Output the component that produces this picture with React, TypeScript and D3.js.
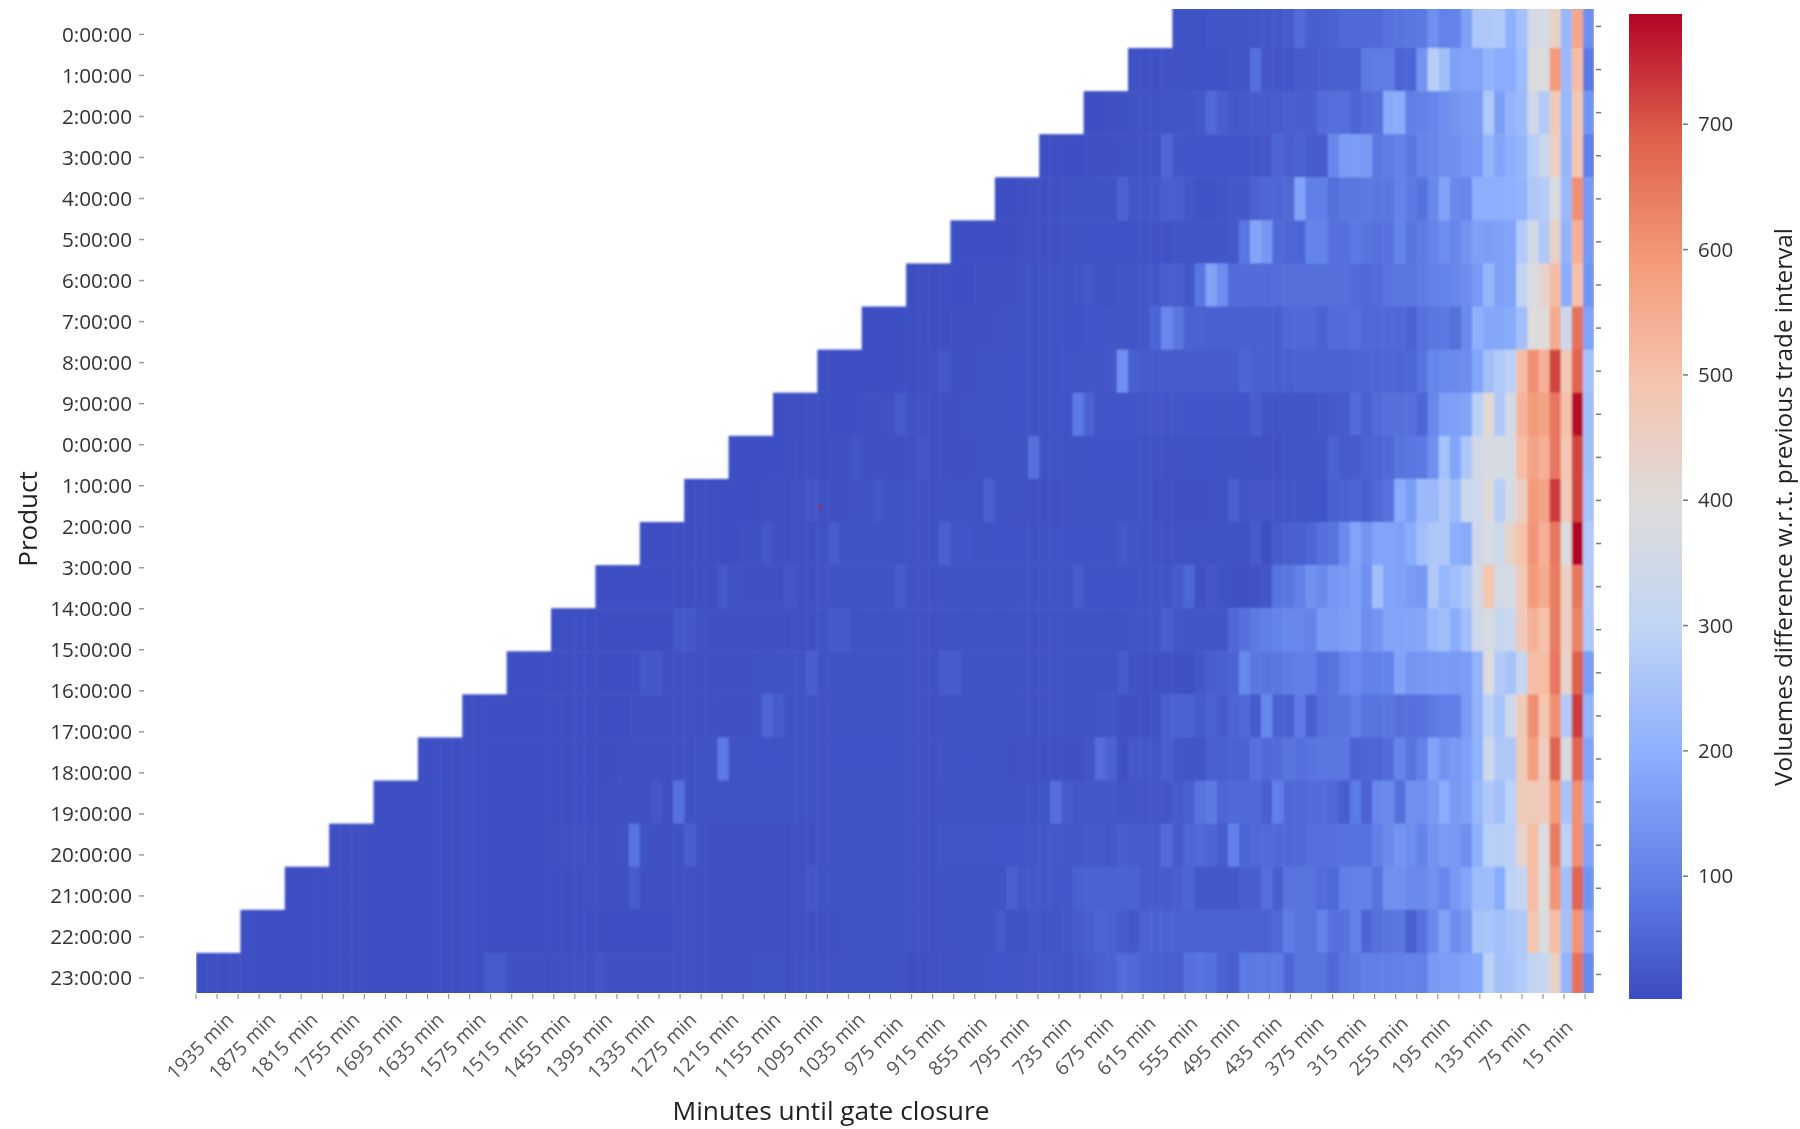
import * as d3 from 'd3';

const width = 1800;
const height = 1129;

// tick labels as printed on the chart (the first ten and 10:00-13:00 are cut off on the left in the source)
const productLabels = ['0:00:00','1:00:00','2:00:00','3:00:00','4:00:00','5:00:00','6:00:00','7:00:00','8:00:00','9:00:00','0:00:00','1:00:00','2:00:00','3:00:00','14:00:00','15:00:00','16:00:00','17:00:00','18:00:00','19:00:00','20:00:00','21:00:00','22:00:00','23:00:00'];
const minuteLabels = [1935,1875,1815,1755,1695,1635,1575,1515,1455,1395,1335,1275,1215,1155,1095,1035,975,915,855,795,735,675,615,555,495,435,375,315,255,195,135,75,15];
const minuteTicks = [1935,1905,1875,1845,1815,1785,1755,1725,1695,1665,1635,1605,1575,1545,1515,1485,1455,1425,1395,1365,1335,1305,1275,1245,1215,1185,1155,1125,1095,1065,1035,1005,975,945,915,885,855,825,795,765,735,705,675,645,615,585,555,525,495,465,435,405,375,345,315,285,255,225,195,165,135,105,75,45,15,-15,-45];
const colorbarTicks = [100,200,300,400,500,600,700];
const volumeMin = 2;
const volumeMax = 788;

// the values of one product row, right aligned: last entry is the last trade interval
const row00 = [15,15,15,18,18,20,22,22,25,25,30,60,35,40,45,55,55,55,55,70,75,80,85,130,100,105,165,260,265,270,200,245,360,370,440,220,560,130];
const row01 = [12,12,12,14,14,14,15,15,15,16,18,65,
  20,20,22,30,32,35,38,40,40,85,88,90,50,50,140,280,240,165,170,170,210,190,190,230,385,385,590,225,510,85];
const row02 = [10,10,12,12,14,15,15,16,18,20,25,55,
  35,25,28,30,30,32,35,35,35,60,65,68,50,60,65,185,190,95,100,108,128,140,150,155,265,160,210,225,350,270,470,220,480,140];
const row03 = [10,10,10,10,12,12,12,14,14,14,15,50,20,18,18,18,18,18,18,22,25,
  50,35,45,32,30,110,155,160,150,80,90,100,80,105,110,125,130,145,150,215,175,195,215,280,330,450,215,490,95];
const row04 = [10,10,10,12,12,12,14,14,14,15,15,45,20,22,25,35,35,25,15,15,20,25,25,
  45,50,50,55,170,95,95,65,80,80,85,80,80,100,85,70,110,170,115,110,195,195,195,200,210,265,275,385,225,610,150];
const row05 = [8,8,10,10,10,10,12,12,12,12,14,14,15,15,15,15,15,15,15,15,18,18,20,20,22,25,
  80,175,145,55,50,50,105,105,70,70,85,75,70,70,105,75,85,105,125,110,140,165,160,165,170,270,355,265,440,210,540,150];
const row06 = [8,8,8,10,10,10,12,12,12,12,14,14,15,15,14,18,25,15,15,20,22,25,25,35,35,25,
  80,170,125,60,60,60,60,62,65,65,65,65,65,65,60,55,60,75,80,78,90,100,105,110,125,150,215,165,170,310,380,430,510,190,500,140];
const row07 = [8,8,8,8,10,10,10,10,12,12,12,12,14,14,14,14,15,15,15,15,18,18,20,20,22,25,
  50,110,80,45,42,40,40,40,40,40,40,40,55,55,55,45,60,60,65,55,55,55,55,45,70,80,85,65,115,200,180,180,185,240,395,400,550,340,660,170];
const row08 = [8,8,8,8,10,10,10,10,10,12,12,25,12,12,14,14,14,15,15,15,15,15,18,18,20,20,25,
  130,40,30,30,30,30,30,30,30,30,30,50,40,40,40,40,45,45,45,45,45,48,48,50,50,50,50,75,110,115,120,125,175,240,270,285,510,610,540,720,470,680,250];
const row09 = [8,8,8,10,10,10,10,10,12,12,14,30,14,14,12,12,12,14,14,14,15,15,15,15,15,15,15,85,45,18,18,18,18,20,22,22,
  22,22,22,22,22,22,22,35,16,16,16,18,20,25,28,30,60,40,60,65,65,70,50,110,160,165,170,285,410,265,360,530,590,570,650,500,785,240];
const row10 = [8,8,8,8,10,10,10,10,10,12,12,20,12,12,12,12,12,25,12,12,12,12,14,14,14,14,14,65,14,14,14,14,15,15,15,15,15,15,15,14,14,14,15,15,14,14,14,12,12,15,18,18,20,22,
  45,30,30,45,50,55,75,80,85,130,245,175,260,355,370,370,370,510,570,540,650,480,720,240];
const row11 = [8,8,8,10,10,10,10,12,12,12,12,25,12,12,12,14,14,25,14,14,14,14,14,14,14,14,14,40,14,14,12,12,12,12,14,14,14,14,14,14,14,14,12,12,12,12,12,14,14,
  40,22,20,20,20,20,20,18,18,40,45,50,40,55,70,190,160,225,225,265,230,330,340,400,280,370,450,590,570,730,470,720,250];
const row12 = [8,8,8,8,10,10,10,10,10,12,12,25,12,12,12,12,14,30,14,14,14,14,14,14,14,14,14,40,18,18,15,15,15,15,15,15,15,15,15,15,15,15,15,25,18,15,15,15,15,15,14,14,14,14,14,
  30,8,30,35,40,50,70,75,120,170,140,170,170,165,190,240,260,265,195,185,350,370,340,440,500,600,540,650,390,790,270];
const row13 = [8,8,8,8,10,10,10,10,10,10,10,25,14,12,12,12,12,22,12,12,14,14,14,14,14,14,14,30,14,14,14,14,14,14,14,14,14,14,14,14,14,14,14,30,15,15,15,15,15,15,18,18,30,50,12,25,14,12,12,12,
  20,75,80,100,135,120,145,150,165,130,240,170,165,155,145,265,215,240,265,360,490,360,370,470,590,550,640,450,650,270];
const row14 = [8,8,8,8,8,10,10,10,10,10,10,25,25,12,12,12,12,12,12,12,12,12,12,12,14,28,28,14,14,14,14,14,14,14,14,14,14,14,14,14,14,14,14,14,14,14,14,14,14,14,14,14,18,18,18,35,20,20,20,20,20,55,
  70,85,95,105,110,110,105,150,150,160,165,125,140,170,170,175,180,220,240,190,240,345,370,320,330,470,540,500,640,450,630,260];
const row15 = [8,8,8,8,8,8,10,10,10,10,10,10,25,25,12,12,12,12,12,12,12,12,14,14,14,14,14,35,14,14,14,14,14,14,14,14,14,14,14,30,30,14,14,14,14,14,14,14,14,14,14,14,14,14,14,30,15,12,12,12,12,12,25,35,40,45,
  110,80,75,80,90,95,95,70,75,105,115,100,100,105,170,140,145,150,155,150,155,210,395,270,250,320,510,510,650,430,690,160];
const row16 = [8,8,8,8,8,8,8,10,10,10,10,10,10,10,10,12,12,12,12,12,12,12,12,12,12,12,14,50,30,14,14,14,14,14,14,14,14,14,14,14,14,14,14,14,14,14,14,14,14,14,14,14,14,14,14,14,14,18,20,12,12,12,15,40,45,45,30,45,30,50,55,
  30,110,40,40,90,40,65,75,75,95,75,75,80,65,70,70,85,95,95,150,210,290,250,340,470,610,490,610,270,730,210];
const row17 = [8,8,8,8,8,8,8,8,10,10,10,10,10,10,10,10,10,10,12,12,12,12,12,12,14,14,14,85,14,14,15,15,15,15,15,15,15,15,15,15,15,15,15,15,15,15,15,15,15,15,15,15,15,12,12,12,12,12,12,12,20,60,45,12,25,25,20,35,20,20,20,40,40,45,45,
  70,55,60,75,70,75,80,80,80,45,50,50,60,105,75,100,170,140,150,165,205,340,260,265,470,580,460,680,370,680,170];
const row18 = [8,8,8,8,8,8,8,8,8,8,10,10,10,10,10,10,10,10,10,10,10,12,12,12,12,25,12,70,15,15,14,14,14,14,14,14,14,14,14,14,14,14,14,14,14,14,14,14,14,14,14,14,14,14,14,14,14,14,14,14,18,65,30,25,25,25,25,20,20,20,20,22,30,40,
  75,85,50,55,55,55,35,95,55,55,60,60,55,35,85,45,110,115,65,130,130,150,190,150,165,220,265,240,290,465,470,465,590,250,610,210];
const row19 = [8,8,8,8,8,8,8,8,8,8,8,10,10,10,10,10,10,10,10,10,12,12,12,12,12,12,14,75,14,12,12,12,35,15,12,12,12,12,12,12,12,12,12,12,14,14,14,14,14,14,14,14,14,14,14,16,16,16,16,18,18,18,18,20,25,25,25,25,28,28,25,35,30,30,30,60,30,50,55,50,30,
  100,50,55,58,55,55,55,65,68,70,72,72,72,95,120,140,125,105,140,155,150,130,200,280,280,285,430,510,390,640,290,610,170];
const row20 = [8,8,8,8,8,8,8,8,8,8,8,10,10,10,10,10,10,10,10,10,10,10,10,10,10,10,10,12,12,12,12,30,12,12,12,12,12,12,12,12,12,12,12,12,12,12,12,25,14,14,14,14,14,14,14,14,14,14,14,14,14,14,14,14,14,40,25,25,25,22,22,40,45,45,45,45,45,30,30,30,35,50,25,25,25,25,
  35,35,65,35,75,75,75,60,55,95,100,100,75,130,130,120,120,135,110,150,175,230,235,190,290,310,510,390,600,240,680,140];
const row21 = [8,8,8,8,8,8,8,8,8,8,8,8,10,10,10,10,10,10,10,10,10,10,10,10,10,10,10,10,10,10,10,10,10,10,10,10,10,10,10,12,12,12,12,12,12,12,12,12,12,12,12,12,12,12,14,14,14,14,14,14,14,14,14,14,14,14,14,14,28,14,14,25,16,16,25,30,40,50,45,30,25,45,45,45,45,45,45,45,45,45,45,42,42,55,
  90,75,75,100,70,70,100,50,70,75,80,35,70,120,170,125,145,250,255,240,255,265,490,380,510,245,600,170];
const row22 = [8,8,8,10,10,8,8,8,8,8,8,8,8,8,8,8,10,10,10,10,10,10,10,10,10,10,30,30,12,12,12,12,12,12,12,12,22,12,12,12,12,12,12,12,12,12,12,12,12,12,14,14,14,12,14,14,14,14,14,14,14,14,14,14,10,10,12,12,14,14,14,18,18,18,20,20,20,20,18,25,30,40,45,60,55,45,40,35,35,70,75,70,45,35,85,85,85,85,
  50,75,75,75,55,80,85,95,95,95,95,100,100,150,160,160,170,180,290,240,250,270,305,320,445,210,660,120];

const rows = [row00,row01,row02,row03,row04,row05,row06,row07,row08,row09,row10,row11,row12,row13,row14,row15,row16,row17,row18,row19,row20,row21,row22];
const columnCount = 126;

// the little red speck in the picture, minutes / product row / share of the row height
const speck = { minutes: 1046, row: 11, within: 0.65 };

// matplotlib coolwarm
const coolwarmStops = ['#3b4cc0','#6282ea','#8db0fe','#c0d4f5','#dddcdc','#f5c4ad','#f49a7b','#de604d','#b40426'];
const coolwarm = d3.piecewise(d3.interpolateRgb, coolwarmStops);
const color = d3.scaleSequential(coolwarm).domain([volumeMin, volumeMax]);

// the labels were pasted on a slightly different grid than the cells, so the scales are separate
const x = d3.scaleBand<number>().domain(d3.range(columnCount)).range([196, 1594]);
const y = d3.scaleBand<number>().domain(d3.range(rows.length)).range([4.9, 996]);
const xMinutes = d3.scaleLinear().domain([1935, 15]).range([196, 1543]);
const yLabels = d3.scalePoint<number>().domain(d3.range(productLabels.length)).range([34.4, 978]);
const yBar = d3.scaleLinear().domain([volumeMin, volumeMax]).range([999, 14]);

const font = '"Open Sans", sans-serif';

const App = () => {
  return (
    <svg width={width} height={height} style={{ position: 'absolute', left: 0, top: 0, background: '#fff' }} fontFamily={font}>
      <defs>
        <clipPath id="cells">
          <rect x={196} y={9} width={1398} height={984} />
        </clipPath>
        <filter id="soft" x="-2%" y="-2%" width="104%" height="104%">
          <feGaussianBlur stdDeviation="0.9" />
        </filter>
        <filter id="softText" x="-10%" y="-10%" width="120%" height="120%">
          <feGaussianBlur stdDeviation="0.45" />
        </filter>
        <linearGradient id="bar" x1="0" x2="0" y1="1" y2="0">
          {coolwarmStops.map((c, i) => (
            <stop key={i} offset={i / (coolwarmStops.length - 1)} stopColor={c} />
          ))}
        </linearGradient>
      </defs>

      <g clipPath="url(#cells)">
        <g filter="url(#soft)">
          {rows.map((row, r) =>
            row.map((v, i) => (
              <rect
                key={r + '-' + i}
                x={x(columnCount - row.length + i)}
                y={y(r)}
                width={x.bandwidth() + 0.5}
                height={y.bandwidth() + 0.5}
                fill={color(v)}
              />
            ))
          )}
        </g>
      </g>

      <circle cx={xMinutes(speck.minutes)} cy={y(speck.row)! + y.bandwidth() * speck.within} r={1.6} fill="#c8232c" />

      <g filter="url(#softText)">
        {productLabels.map((d, i) => (
          <g key={i} transform={`translate(0,${yLabels(i)})`}>
            <line x1={139} x2={144} stroke="#999" strokeWidth={1.5} />
            <text x={132} dy="0.35em" textAnchor="end" fontSize={20.7} fill="#333">{d}</text>
          </g>
        ))}
        {rows.map((_, r) => (
          <line key={r} x1={1596} x2={1601} y1={y(r)! + y.bandwidth() / 2} y2={y(r)! + y.bandwidth() / 2} stroke="#777" strokeWidth={1.5} />
        ))}
        {minuteTicks.map(d => (
          <line key={d} x1={xMinutes(d)} x2={xMinutes(d)} y1={994} y2={999} stroke="#999" strokeWidth={1.2} />
        ))}
        {minuteLabels.map(d => (
          <text
            key={d}
            transform={`translate(${xMinutes(d) + 4},1046) rotate(-45)`}
            dy="0.35em"
            textAnchor="middle"
            fontSize={19.5}
            fill="#555"
          >
            {d} min
          </text>
        ))}
        <text x={831} y={1120} textAnchor="middle" fontSize={26.3} fill="#222">Minutes until gate closure</text>
        <text transform="translate(28,519) rotate(-90)" dy="0.35em" textAnchor="middle" fontSize={26} fill="#222">Product</text>
        <text transform="translate(1783,507) rotate(-90)" dy="0.35em" textAnchor="middle" fontSize={24.3} fill="#222">
          Voluemes difference w.r.t. previous trade interval
        </text>
      </g>

      <rect x={1629} y={yBar(volumeMax)} width={53} height={yBar(volumeMin) - yBar(volumeMax)} fill="url(#bar)" />
      <g filter="url(#softText)">
        {colorbarTicks.map(d => (
          <g key={d} transform={`translate(0,${yBar(d)})`}>
            <line x1={1683} x2={1688} stroke="#777" strokeWidth={1.5} />
            <text x={1698} dy="0.35em" fontSize={20.5} fill="#333">{d}</text>
          </g>
        ))}
      </g>
    </svg>
  );
};

export default App;
